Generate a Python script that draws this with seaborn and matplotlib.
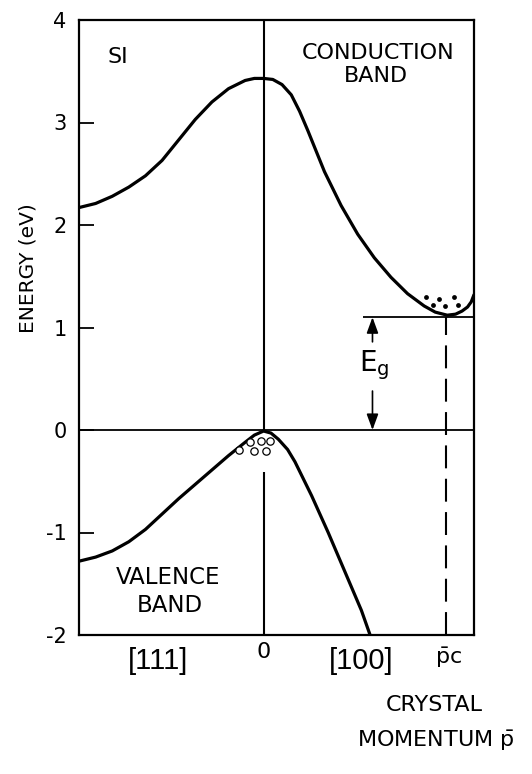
import matplotlib
matplotlib.use("Agg")
import matplotlib.pyplot as plt
import seaborn as sns
import numpy as np
import pandas as pd

# ---------------- data ----------------
cond_k = [-1.0, -0.91, -0.82, -0.73, -0.64, -0.55, -0.46, -0.37, -0.28, -0.19, -0.10,
          -0.05, 0.0, 0.05, 0.10, 0.15, 0.195, 0.24, 0.33, 0.42, 0.51, 0.60,
          0.69, 0.78, 0.87, 0.93, 0.995, 1.04, 1.075, 1.105, 1.125, 1.14]
cond_E = [2.17, 2.21, 2.28, 2.37, 2.48, 2.63, 2.83, 3.03, 3.20, 3.33, 3.41,
          3.43, 3.43, 3.42, 3.37, 3.27, 3.11, 2.92, 2.52, 2.19, 1.91, 1.68,
          1.49, 1.33, 1.21, 1.15, 1.12, 1.13, 1.16, 1.20, 1.25, 1.32]

val_k = [-1.0, -0.91, -0.82, -0.73, -0.64, -0.55, -0.46, -0.37, -0.28, -0.19, -0.10,
         -0.05, 0.0, 0.04, 0.08, 0.13, 0.17, 0.26, 0.35, 0.44, 0.53, 0.577]
val_E = [-1.28, -1.24, -1.18, -1.09, -0.97, -0.82, -0.67, -0.53, -0.39, -0.25, -0.12,
         -0.05, -0.01, -0.03, -0.09, -0.19, -0.31, -0.64, -1.00, -1.38, -1.76, -2.0]

electron_k = [0.879, 0.948, 1.029, 0.919, 0.984, 1.052]
electron_E = [1.30, 1.28, 1.30, 1.22, 1.21, 1.22]

hole_k = [-0.134, -0.076, -0.054, -0.012, 0.011, 0.036]
hole_E = [-0.196, -0.118, -0.206, -0.108, -0.206, -0.108]

gap_E = 1.1          # band gap energy (eV)
pc_k = 0.99          # conduction-band minimum momentum
ytick_vals = [4, 3, 2, 1, 0, -1, -2]
ytick_labels = ['4', '3', '2', '1', '0', '-1', '-2']
xtick_vals = [-0.57, 0.0, 0.53, 1.0]
xtick_labels = ['[111]', '0', '[100]', r'$\bar{\mathrm{p}}\mathrm{c}$']

# ---------------- styling ----------------
sns.set_style("white")
plt.rcParams['font.family'] = ['DejaVu Sans']
plt.rcParams['mathtext.fontset'] = 'dejavusans'
plt.rcParams['text.color'] = 'black'
plt.rcParams['xtick.color'] = 'black'
plt.rcParams['ytick.color'] = 'black'
plt.rcParams['axes.labelcolor'] = 'black'
plt.rcParams['lines.solid_joinstyle'] = 'round'

W, H = 532, 774
fig = plt.figure(figsize=(W / 100, H / 100), dpi=100)
ax = fig.add_axes([79 / W, 1 - 635 / H, (474 - 79) / W, (635 - 20) / H])
ax.set_xlim(-1.0, 1.14)
ax.set_ylim(-2, 4)

for sp in ax.spines.values():
    sp.set_visible(True)
    sp.set_linewidth(1.6)
    sp.set_color('black')

cond_df = pd.DataFrame({'k': cond_k, 'E': cond_E})
val_df = pd.DataFrame({'k': val_k, 'E': val_E})
sns.lineplot(data=cond_df, x='k', y='E', sort=False, estimator=None,
             color='black', lw=2.3, ax=ax)
sns.lineplot(data=val_df, x='k', y='E', sort=False, estimator=None,
             color='black', lw=2.3, ax=ax)

# reference lines
ax.axhline(0, color='black', lw=1.3)
ax.vlines(0, 0, 4, color='black', lw=1.5)
ax.vlines(0, -2, -0.41, color='black', lw=1.5)
ax.hlines(gap_E, 0.537, 1.14, color='black', lw=1.3)
ax.vlines(pc_k, -2, gap_E, color='black', lw=1.5, linestyles=[(0, (11, 5))])

# carriers
sns.scatterplot(x=electron_k, y=electron_E, color='black', s=12, edgecolor='black',
                linewidth=0, ax=ax, zorder=5)
sns.scatterplot(x=hole_k, y=hole_E, facecolor='white', edgecolor='black', s=28,
                linewidth=0.9, ax=ax, zorder=5)

# band gap arrows
arr = dict(arrowstyle='-|>,head_length=0.6,head_width=0.22', mutation_scale=16,
           lw=1.2, color='black', shrinkA=0, shrinkB=0)
ax.annotate('', xy=(0.59, gap_E), xytext=(0.59, 0.86), arrowprops=arr)
ax.annotate('', xy=(0.59, 0), xytext=(0.59, 0.38), arrowprops=arr)
ax.text(0.6, 0.63, r'$\mathrm{E}_{\mathrm{g}}$', fontsize=20, ha='center', va='center')

# labels in plot
ax.text(-0.79, 3.64, 'SI', fontsize=16, ha='center', va='center')
ax.text(0.62, 3.68, 'CONDUCTION', fontsize=16, ha='center', va='center')
ax.text(0.61, 3.45, 'BAND', fontsize=16, ha='center', va='center')
ax.text(-0.52, -1.44, 'VALENCE', fontsize=16.5, ha='center', va='center')
ax.text(-0.51, -1.71, 'BAND', fontsize=16.5, ha='center', va='center')

# ticks
ax.set_yticks(ytick_vals)
ax.set_yticklabels(ytick_labels)
ax.tick_params(axis='y', direction='in', length=11, width=1.3, left=True,
               labelsize=15, pad=9)
ax.set_xticks(xtick_vals)
ax.set_xticklabels(xtick_labels)
ax.tick_params(axis='x', length=0, pad=5, labelsize=16)
labs = ax.get_xticklabels()
for lab in labs:
    if lab.get_text().startswith('['):
        lab.set_fontfamily('Liberation Sans')
        lab.set_fontsize(21)
        lab.set_y(-0.008)
    elif 'p' in lab.get_text():
        lab.set_y(-0.006)
ax.set_xlabel('')
ax.set_ylabel('')

fig.text(28 / W, 1 - 268 / H, 'ENERGY (eV)', rotation=90, fontsize=14.5,
         ha='center', va='center')
fig.text(434 / W, 1 - 705 / H, 'CRYSTAL', fontsize=16, ha='center', va='center')
fig.text(436 / W, 1 - 741 / H, r'MOMENTUM $\bar{\mathrm{p}}$', fontsize=16,
         ha='center', va='center')

fig.savefig('out.png', dpi=100)
